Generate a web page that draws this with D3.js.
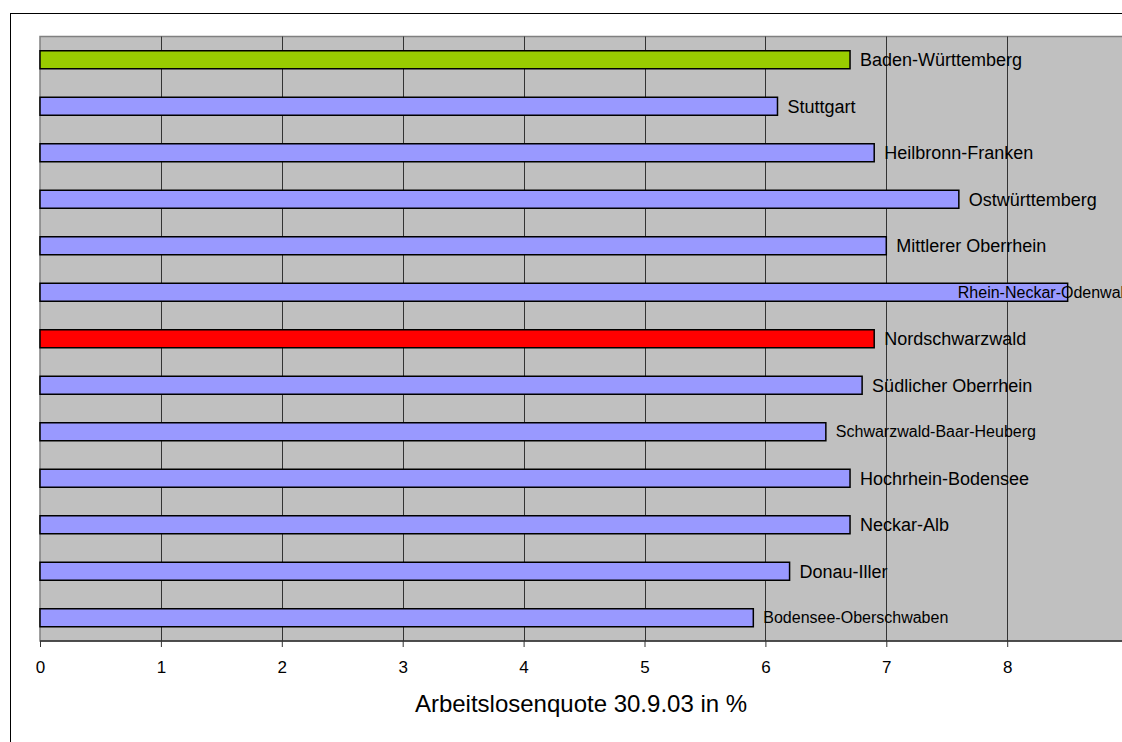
<!DOCTYPE html>
<html>
<head>
<meta charset="utf-8">
<script src="https://cdn.jsdelivr.net/npm/d3@7/dist/d3.min.js"></script>
<style>
  html, body { margin: 0; padding: 0; background: #fff; }
  svg { display: block; }
  text { font-family: "Liberation Sans", Arial, sans-serif; fill: #000; }
</style>
</head>
<body>
<svg id="chart" width="1122" height="742"></svg>
<script>
// Unemployment rate by region, Baden-Württemberg, 30 Sept 2003
const regions = [
  "Baden-Württemberg",
  "Stuttgart",
  "Heilbronn-Franken",
  "Ostwürttemberg",
  "Mittlerer Oberrhein",
  "Rhein-Neckar-Odenwald",
  "Nordschwarzwald",
  "Südlicher Oberrhein",
  "Schwarzwald-Baar-Heuberg",
  "Hochrhein-Bodensee",
  "Neckar-Alb",
  "Donau-Iller",
  "Bodensee-Oberschwaben"
];
const rates = [6.7, 6.1, 6.9, 7.6, 7.0, 8.5, 6.9, 6.8, 6.5, 6.7, 6.7, 6.2, 5.9];
const xTicks = [0, 1, 2, 3, 4, 5, 6, 7, 8];
const axisTitle = "Arbeitslosenquote 30.9.03 in %";

// Highlight colours: the state total and the Nordschwarzwald region
const barColor = d => d === "Baden-Württemberg" ? "#99CC00"
                    : d === "Nordschwarzwald" ? "#FF0000" : "#9999FF";
// Long names get a smaller label font
const smallLabels = new Set(["Rhein-Neckar-Odenwald", "Schwarzwald-Baar-Heuberg", "Bodensee-Oberschwaben"]);

const svg = d3.select("#chart");
const plot = { left: 40, top: 36.5, bottom: 641 };
const frameRight = 1133; // right edge of the chart frame, just past the page

// Outer chart frame
svg.append("rect")
  .attr("x", 10.5).attr("y", 13.5)
  .attr("width", frameRight - 10.5).attr("height", 800)
  .attr("fill", "#fff").attr("stroke", "#000").attr("stroke-width", 1);

const x = d3.scaleLinear().domain([0, 9]).range([plot.left, plot.left + 9 * 120.9]);
const y = d3.scaleBand().domain(regions)
  .range([plot.top, plot.bottom])
  .paddingInner(0.613).paddingOuter(0.3065);

// Plot background
svg.append("rect")
  .attr("x", plot.left).attr("y", plot.top)
  .attr("width", 1200).attr("height", plot.bottom - plot.top)
  .attr("fill", "#C0C0C0").attr("stroke", "#808080").attr("stroke-width", 1.5);

// Vertical gridlines
svg.append("g")
  .selectAll("line")
  .data(xTicks.filter(t => t > 0))
  .join("line")
  .attr("x1", d => Math.round(x(d)) + 0.5).attr("x2", d => Math.round(x(d)) + 0.5)
  .attr("y1", plot.top).attr("y2", plot.bottom)
  .attr("stroke", "#333").attr("stroke-width", 1);

// Bottom axis
const axis = d3.axisBottom(x).tickValues(xTicks).tickSize(6).tickPadding(14)
  .tickFormat(d3.format("d"));
const gAxis = svg.append("g")
  .attr("transform", `translate(0,${plot.bottom})`)
  .call(axis);
gAxis.select(".domain").attr("stroke", "#333").attr("stroke-width", 1.5)
  .attr("d", `M${plot.left},0H${frameRight + 20}`);
gAxis.selectAll(".tick line").attr("stroke", "#333");
gAxis.selectAll(".tick text")
  .style("font-family", "'Liberation Sans', Arial, sans-serif")
  .style("font-size", "17px").attr("fill", "#000");

// Bars
svg.append("g")
  .selectAll("rect")
  .data(regions)
  .join("rect")
  .attr("x", x(0))
  .attr("y", d => y(d))
  .attr("width", (d, i) => x(rates[i]) - x(0))
  .attr("height", y.bandwidth())
  .attr("fill", d => barColor(d))
  .attr("stroke", "#000").attr("stroke-width", 1.5);

// Region labels next to each bar; pulled left when they would run past the frame
const labels = svg.append("g")
  .selectAll("text")
  .data(regions)
  .join("text")
  .attr("y", d => y(d) + y.bandwidth() / 2)
  .attr("dy", "0.35em")
  .style("font-size", d => smallLabels.has(d) ? "16px" : "18px")
  .text(d => d);
labels.each(function (d, i) {
  const w = this.getComputedTextLength();
  const px = Math.min(x(rates[i]) + 10, frameRight - w);
  d3.select(this).attr("x", px);
});

// Axis title
svg.append("text")
  .attr("x", 581).attr("y", 712)
  .attr("text-anchor", "middle")
  .style("font-size", "24px")
  .text(axisTitle);
</script>
</body>
</html>
